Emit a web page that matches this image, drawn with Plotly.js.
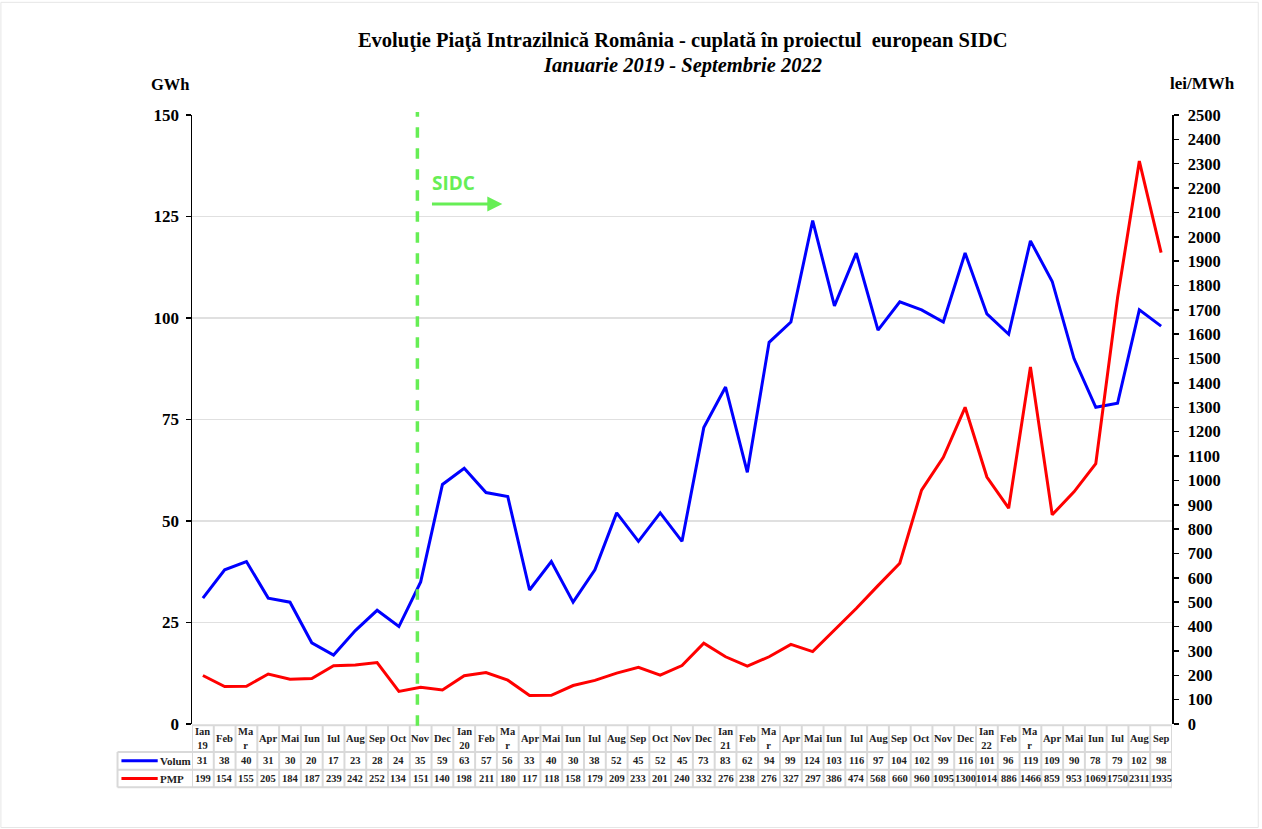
<!DOCTYPE html>
<html>
<head>
<meta charset="utf-8">
<script src="https://cdn.plot.ly/plotly-3.0.1.min.js"></script>
<style>html,body{margin:0;padding:0;background:#fff;}#chart{width:1262px;height:829px;}</style>
</head>
<body>
<div id="chart"></div>
<script>
const months = ["Ian<br>19","Feb","Ma<br>r","Apr","Mai","Iun","Iul","Aug","Sep","Oct","Nov","Dec",
  "Ian<br>20","Feb","Ma<br>r","Apr","Mai","Iun","Iul","Aug","Sep","Oct","Nov","Dec",
  "Ian<br>21","Feb","Ma<br>r","Apr","Mai","Iun","Iul","Aug","Sep","Oct","Nov","Dec",
  "Ian<br>22","Feb","Ma<br>r","Apr","Mai","Iun","Iul","Aug","Sep"];
const volum = [31,38,40,31,30,20,17,23,28,24,35,59,63,57,56,33,40,30,38,52,45,52,45,73,83,62,94,99,124,103,116,97,104,102,99,116,101,96,119,109,90,78,79,102,98];
const pmp = [199,154,155,205,184,187,239,242,252,134,151,140,198,211,180,117,118,158,179,209,233,201,240,332,276,238,276,327,297,386,474,568,660,960,1095,1300,1014,886,1466,859,953,1069,1750,2311,1935];
const leftTicks = [0,25,50,75,100,125,150];
const rightTicks = [0,100,200,300,400,500,600,700,800,900,1000,1100,1200,1300,1400,1500,1600,1700,1800,1900,2000,2100,2200,2300,2400,2500];
const sidcIndex = 9.85;

const idx = months.map((m,i)=>i);
const serif = "Liberation Serif, Times New Roman, serif";

const traces = [
  {x: idx, y: volum, type:'scatter', mode:'lines', name:'Volum', line:{color:'#0000FF', width:3}, yaxis:'y'},
  {x: idx, y: pmp, type:'scatter', mode:'lines', name:'PMP', line:{color:'#FF0000', width:3}, yaxis:'y2'}
];

// table geometry (paper coords)
const yTop = -0.002, yH = -0.046, yV = -0.075, yB = -0.104;
const gray = '#d9d9d9';
const shapes = [];
const annotations = [];
shapes.push({type:'line', xref:'x', yref:'paper', x0:-0.5, x1:44.5, y0:yTop, y1:yTop, line:{color:gray,width:2}});
[yH, yV, yB].forEach(y=>{
  shapes.push({type:'line', xref:'paper', yref:'paper', x0:-0.076, x1:1, y0:y, y1:y, line:{color:gray,width:2}});
});
shapes.push({type:'line', xref:'paper', yref:'paper', x0:-0.076, x1:-0.076, y0:yH, y1:yB, line:{color:gray,width:2}});
for (let i=0;i<=45;i++){
  shapes.push({type:'line', xref:'x', yref:'paper', x0:i-0.5, x1:i-0.5, y0:yTop, y1:yB, line:{color:gray,width:2}});
}
shapes.push({type:'line', xref:'paper', yref:'paper', x0:-0.072, x1:-0.035, y0:(yH+yV)/2, y1:(yH+yV)/2, line:{color:'#0000FF',width:3}});
shapes.push({type:'line', xref:'paper', yref:'paper', x0:-0.072, x1:-0.035, y0:(yV+yB)/2, y1:(yV+yB)/2, line:{color:'#FF0000',width:3}});
annotations.push({xref:'paper', yref:'paper', x:-0.035, y:(yH+yV)/2, text:'<b>Volum</b>', showarrow:false, xanchor:'left', yanchor:'middle', font:{family:serif,size:11,color:'#222'}});
annotations.push({xref:'paper', yref:'paper', x:-0.035, y:(yV+yB)/2, text:'<b>PMP</b>', showarrow:false, xanchor:'left', yanchor:'middle', font:{family:serif,size:11,color:'#222'}});

months.forEach((m,i)=>{
  annotations.push({xref:'x', yref:'paper', x:i, y:(yTop+yH)/2, text:'<b>'+m+'</b>', showarrow:false, yanchor:'middle', font:{family:serif,size:10.5,color:'#222'}});
  annotations.push({xref:'x', yref:'paper', x:i, y:(yH+yV)/2, text:'<b>'+volum[i]+'</b>', showarrow:false, yanchor:'middle', font:{family:serif,size:10.5,color:'#222'}});
  annotations.push({xref:'x', yref:'paper', x:i, y:(yV+yB)/2, text:'<b>'+pmp[i]+'</b>', showarrow:false, yanchor:'middle', font:{family:serif,size:10.5,color:'#222'}});
});

// SIDC line and arrow
shapes.push({type:'line', xref:'x', yref:'paper', x0:sidcIndex, x1:sidcIndex, y0:-0.003, y1:1.005, line:{color:'#66EE55', width:3.5, dash:'dash'}});
annotations.push({xref:'x', yref:'paper', x:sidcIndex+0.6, y:0.888, text:'<b>SIDC</b>', showarrow:false, xanchor:'left', yanchor:'middle', font:{family:'Open Sans, DejaVu Sans, sans-serif', size:19, color:'#66EE55'}});
annotations.push({xref:'x', yref:'paper', x:sidcIndex+3.9, y:0.854, ax:sidcIndex+0.6, ay:0.854, axref:'x', ayref:'paper', text:'', showarrow:true, arrowhead:2, arrowsize:1, arrowwidth:3, arrowcolor:'#66EE55'});

// axis titles
annotations.push({xref:'paper', yref:'paper', x:0.0005, y:1.05, text:'<b>GWh</b>', showarrow:false, xanchor:'right', yanchor:'middle', font:{family:serif,size:16.5,color:'#000'}});
annotations.push({xref:'paper', yref:'paper', x:1.031, y:1.052, text:'<b>lei/MWh</b>', showarrow:false, xanchor:'center', yanchor:'middle', font:{family:serif,size:17,color:'#000'}});
// subtitle
annotations.push({xref:'paper', yref:'paper', x:0.5, y:1.081, text:'<b><i>Ianuarie 2019 - Septembrie 2022</i></b>', showarrow:false, xanchor:'center', yanchor:'middle', font:{family:serif,size:20.5,color:'#000'}});

// outer border
shapes.push({type:'rect', xref:'paper', yref:'paper', x0:-0.195, x1:1.088, y0:-0.17, y1:1.185, line:{color:'#e6e6e6', width:1}});

const layout = {
  width:1262, height:829,
  margin:{l:192, r:90, t:115, b:105},
  paper_bgcolor:'#fff', plot_bgcolor:'#fff',
  showlegend:false,
  title:{text:'<b>Evoluţie Piaţă Intrazilnică România - cuplată în proiectul  european SIDC</b>', x:0.541, xanchor:'center', y:0.952, yanchor:'middle', font:{family:serif,size:20.5,color:'#000'}},
  xaxis:{range:[-0.5,44.5], showticklabels:false, showgrid:false, zeroline:false, showline:false, ticks:'', fixedrange:true},
  yaxis:{range:[0,150], tickvals:leftTicks, ticktext:leftTicks.map(String), showgrid:true, gridcolor:'#e0e0e0', gridwidth:1.5, zeroline:false,
    showline:true, linecolor:'#000', linewidth:1.5, ticks:'outside', ticklen:5, tickcolor:'#000', tickwidth:1.5, ticklabelstandoff:3,
    tickfont:{family:serif,size:17,color:'#000', weight:'bold'}},
  yaxis2:{range:[0,2500], overlaying:'y', side:'right', tickvals:rightTicks, ticktext:rightTicks.map(String), showgrid:false, zeroline:false,
    showline:true, linecolor:'#000', linewidth:1.5, ticks:'outside', ticklen:5, tickcolor:'#000', tickwidth:1.5, ticklabelstandoff:6,
    tickfont:{family:serif,size:16.5,color:'#000', weight:'bold'}},
  shapes: shapes,
  annotations: annotations
};

Plotly.newPlot('chart', traces, layout, {staticPlot:true, displayModeBar:false});
</script>
</body>
</html>
